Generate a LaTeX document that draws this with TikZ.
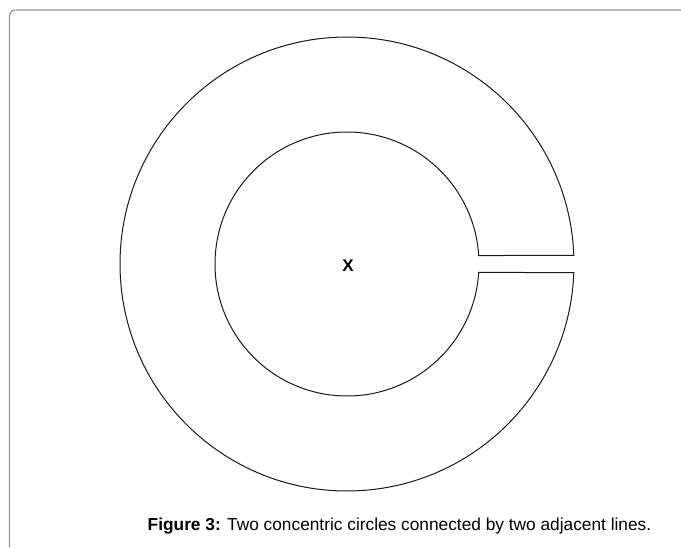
\documentclass[tikz,border=0pt]{standalone}
\usepackage{fontspec}
\setmainfont{Liberation Sans}
\usetikzlibrary{calc}
\begin{document}
\begin{tikzpicture}[x=1pt,y=1pt,
  ring/.style={draw=black!90, line width=1pt},
  frametop/.style={draw=black!28, line width=1.2pt},
  frameleft/.style={draw=black!42, line width=1.2pt}]
\useasboundingbox (0,0) rectangle (681,547);
\coordinate (C) at (347,283);
% frame
\draw[frameleft] (9.5,0) -- (9.5,531) arc[start angle=180,end angle=90,radius=6];
\draw[frametop] (15.5,537) -- (681,537);
% ring with slot
\draw[ring] (C) ++(2.15:227) arc[start angle=2.15,end angle=357.85,radius=227]
  -- ($(C)+(-3.69:132)$) arc[start angle=-3.69,end angle=-356.31,radius=132] -- cycle;
\node[font=\fontsize{17}{20}\selectfont\bfseries] (x) at (348,281) {X};
\node[font=\fontsize{17.3}{20}\selectfont, anchor=center] (cap) at (399.5,21)
  {\textbf{Figure 3:} Two concentric circles connected by two adjacent lines.};
\end{tikzpicture}
\end{document}
